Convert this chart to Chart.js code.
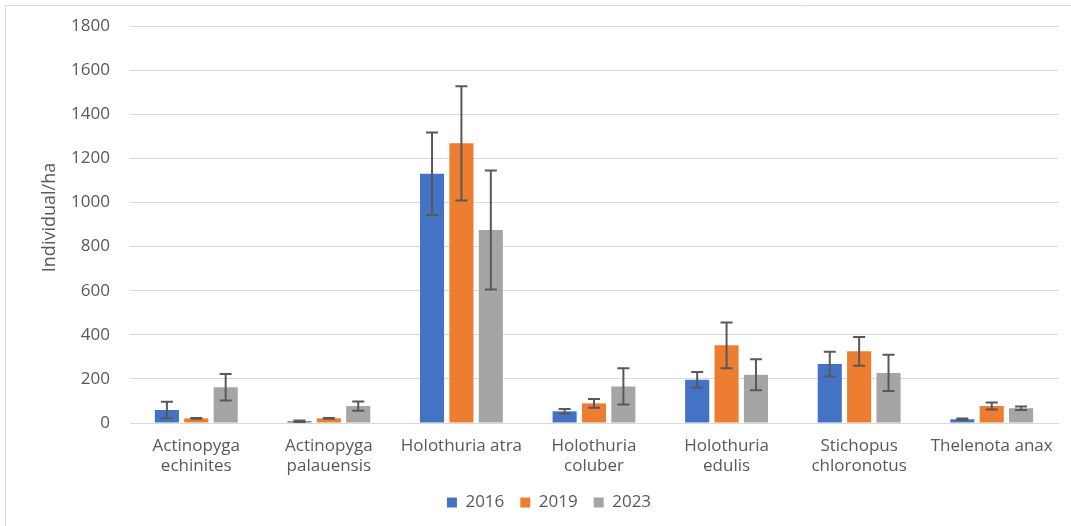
<!DOCTYPE html>
<html>
<head>
<meta charset="utf-8">
<script src="https://cdn.jsdelivr.net/npm/chart.js@4/dist/chart.umd.min.js"></script>
<style>
  body { margin: 0; background: #fff; }
  #wrap { width: 1071px; height: 526px; position: relative; }
</style>
</head>
<body>
<div id="wrap"><canvas id="chart" width="1071" height="526"></canvas></div>
<script>
// Species (x categories)
const categories = [
    ['Actinopyga', 'echinites'],
    ['Actinopyga', 'palauensis'],
    'Holothuria atra',
    ['Holothuria', 'coluber'],
    ['Holothuria', 'edulis'],
    ['Stichopus', 'chloronotus'],
    'Thelenota anax'
];

// Mean density per year (Individual/ha)
const values2016 = [59, 8, 1130, 53, 196, 267, 17];
const values2019 = [21, 21, 1268, 89, 352, 325, 77];
const values2023 = [162, 77, 875, 166, 219, 227, 67];

// Error (+/-) per year
const err2016 = [37, 3, 187, 11, 35, 56, 3];
const err2019 = [2, 2, 259, 20, 104, 65, 16];
const err2023 = [60, 21, 270, 82, 70, 82, 8];

const yTicks = [0, 200, 400, 600, 800, 1000, 1200, 1400, 1600, 1800];
const yTitle = 'Individual/ha';

const textColor = '#595959';
const fontFamily = "'Open Sans', sans-serif";

// Draw error bars from the errors array stored on each dataset
const errorBarPlugin = {
    id: 'errorBars',
    afterDatasetsDraw(chart) {
        const ctx = chart.ctx;
        const yScale = chart.scales.y;
        ctx.save();
        ctx.strokeStyle = '#595959';
        ctx.lineWidth = 2;
        chart.data.datasets.forEach((ds, i) => {
            const meta = chart.getDatasetMeta(i);
            meta.data.forEach((bar, j) => {
                const v = ds.data[j];
                const e = ds.errors[j];
                const top = yScale.getPixelForValue(v + e);
                const bottom = yScale.getPixelForValue(Math.max(0, v - e));
                const cap = 6;
                ctx.beginPath();
                ctx.moveTo(bar.x, top);
                ctx.lineTo(bar.x, bottom);
                ctx.moveTo(bar.x - cap, top);
                ctx.lineTo(bar.x + cap, top);
                ctx.moveTo(bar.x - cap, bottom);
                ctx.lineTo(bar.x + cap, bottom);
                ctx.stroke();
            });
        });
        ctx.restore();
    }
};

// Thin frame and the rotated y title (sits a bit above the plot centre in the original)
const framePlugin = {
    id: 'frame',
    beforeDraw(chart) {
        const ctx = chart.ctx;
        ctx.save();
        ctx.strokeStyle = '#d9d9d9';
        ctx.lineWidth = 1;
        ctx.beginPath();
        ctx.moveTo(5.5, 526);
        ctx.lineTo(5.5, 5.5);
        ctx.lineTo(1071, 5.5);
        ctx.stroke();
        ctx.restore();
    },
    afterDraw(chart) {
        const ctx = chart.ctx;
        const area = chart.chartArea;
        ctx.save();
        ctx.translate(50, (area.top + area.bottom) / 2 - 7);
        ctx.rotate(-Math.PI / 2);
        ctx.fillStyle = textColor;
        ctx.font = '18px ' + fontFamily;
        ctx.textAlign = 'center';
        ctx.textBaseline = 'middle';
        ctx.fillText(yTitle, 0, 0);
        ctx.restore();
    }
};

new Chart(document.getElementById('chart'), {
    type: 'bar',
    data: {
        labels: categories,
        datasets: [
            { label: '2016', data: values2016, errors: err2016, backgroundColor: '#4472c4' },
            { label: '2019', data: values2019, errors: err2019, backgroundColor: '#ed7d31' },
            { label: '2023', data: values2023, errors: err2023, backgroundColor: '#a5a5a5' }
        ]
    },
    options: {
        responsive: false,
        animation: false,
        layout: { padding: { top: 26, right: 13, bottom: 5, left: 40 } },
        datasets: {
            bar: { categoryPercentage: 0.665, barPercentage: 0.82 }
        },
        plugins: {
            legend: {
                position: 'bottom',
                labels: {
                    boxWidth: 10,
                    boxHeight: 10,
                    padding: 16,
                    color: textColor,
                    font: { family: fontFamily, size: 17 }
                }
            },
            tooltip: { enabled: false }
        },
        scales: {
            x: {
                grid: { display: false, drawTicks: false },
                border: { color: '#d9d9d9' },
                ticks: {
                    color: textColor,
                    padding: 13,
                    maxRotation: 0,
                    autoSkip: false,
                    font: { family: fontFamily, size: 17, lineHeight: 1.2 }
                },
                afterFit(scale) { scale.height = 55; }
            },
            y: {
                min: 0,
                max: 1800,
                afterBuildTicks(scale) { scale.ticks = yTicks.map(v => ({ value: v })); },
                grid: { color: '#d9d9d9', drawTicks: true, tickLength: 15, tickColor: 'rgba(0,0,0,0)' },
                border: { display: false },
                ticks: {
                    color: textColor,
                    padding: 5,
                    font: { family: fontFamily, size: 17 },
                    callback: (v) => String(v)
                },
                afterFit(scale) { scale.width = 90; }
            }
        }
    },
    plugins: [errorBarPlugin, framePlugin]
});
</script>
</body>
</html>
